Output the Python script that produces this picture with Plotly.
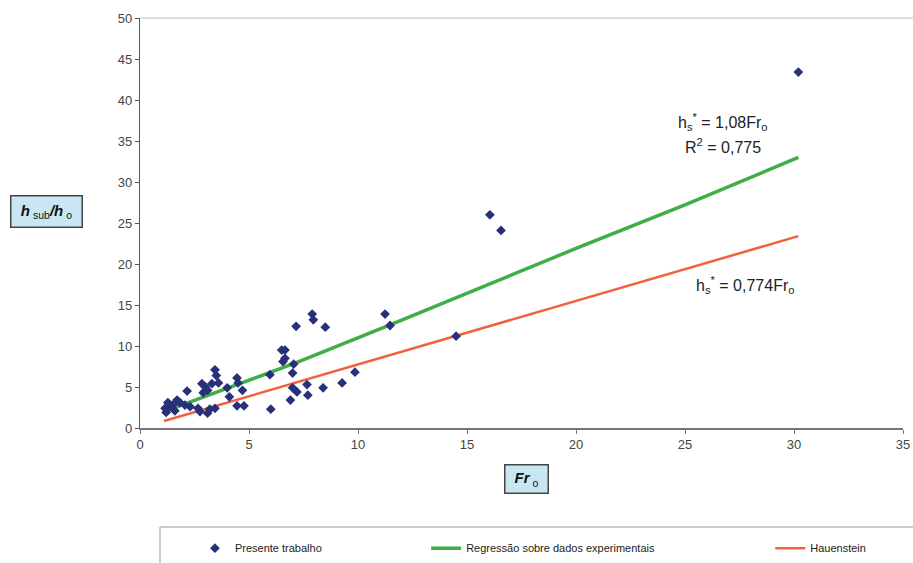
import plotly.graph_objects as go

# Experimental points (Fr_o, h_sub/h_o)
fr_data = [30.2, 16.05, 16.56, 11.24, 11.47, 14.5, 7.9, 7.95, 7.16, 8.5,
           9.86, 9.27, 8.4, 7.7, 7.66, 7.0, 7.2, 6.9, 7.0, 7.05,
           6.5, 6.65, 6.56, 6.65, 5.96, 6.0, 4.45, 4.77, 4.45, 4.5,
           4.7, 4.0, 4.1, 3.44, 3.5, 3.6, 3.3, 2.84, 3.0, 3.1,
           2.9, 2.16, 3.1, 3.44, 3.2, 2.66, 2.75, 1.28, 1.15, 1.5,
           1.83, 2.06, 1.6, 1.2, 1.38, 1.7, 2.3]
h_data = [43.4, 26.0, 24.1, 13.9, 12.5, 11.2, 13.9, 13.2, 12.4, 12.3,
          6.8, 5.5, 4.9, 4.0, 5.3, 4.9, 4.4, 3.4, 6.7, 7.8,
          9.5, 9.5, 8.1, 8.5, 6.5, 2.3, 2.7, 2.7, 6.1, 5.5,
          4.6, 4.9, 3.8, 7.1, 6.4, 5.5, 5.4, 5.4, 5.0, 4.6,
          4.3, 4.5, 1.8, 2.4, 2.3, 2.4, 2.0, 3.1, 2.4, 2.8,
          3.1, 2.8, 2.1, 1.9, 2.6, 3.4, 2.6]

# Regression curve
reg_x = [1.1, 5.0, 7.2, 11.5, 16.5, 20.0, 25.0, 30.2]
reg_y = [2.0, 5.8, 8.0, 12.6, 18.1, 21.9, 27.2, 33.0]

# Hauenstein line
hau_x = [1.1, 30.2]
hau_y = [0.85, 23.4]

x_ticks = [0, 5, 10, 15, 20, 25, 30, 35]
y_ticks = [0, 5, 10, 15, 20, 25, 30, 35, 40, 45, 50]

FONT = "Liberation Sans, Arial, sans-serif"

fig = go.Figure()
fig.add_trace(go.Scatter(
    x=reg_x, y=reg_y, mode="lines", name="Regressão sobre dados experimentais",
    line=dict(color="#3fae46", width=3.5), legend="legend2"))
fig.add_trace(go.Scatter(
    x=hau_x, y=hau_y, mode="lines", name="Hauenstein",
    line=dict(color="#f2603f", width=2.5), legend="legend3"))
fig.add_trace(go.Scatter(
    x=fr_data, y=h_data, mode="markers", name="Presente trabalho",
    marker=dict(symbol="diamond", size=7.5, color="#29307a"), legend="legend"))

leg_common = dict(orientation="h", yanchor="middle", y=-0.293, xanchor="left",
                  font=dict(family=FONT, size=11, color="#222"),
                  bgcolor="rgba(0,0,0,0)", borderwidth=0, itemwidth=30)

fig.update_layout(
    width=913, height=563,
    margin=dict(l=140, r=10, t=18, b=135, autoexpand=False),
    paper_bgcolor="white", plot_bgcolor="white",
    font=dict(family=FONT, size=12, color="#333"),
    showlegend=True,
    legend=dict(x=0.072, **leg_common),
    legend2=dict(x=0.375, **leg_common),
    legend3=dict(x=0.826, **leg_common),
    xaxis=dict(range=[0, 35], tickvals=x_ticks, showgrid=False, zeroline=False,
               showline=True, linecolor="#777", linewidth=1.5,
               ticks="outside", ticklen=4, tickcolor="#777",
               tickfont=dict(family=FONT, size=13, color="#444")),
    yaxis=dict(range=[0, 50], tickvals=y_ticks, showgrid=False, zeroline=False,
               showline=True, linecolor="#555", linewidth=1.2,
               ticks="outside", ticklen=4, tickcolor="#555",
               tickfont=dict(family=FONT, size=13, color="#444")),
    shapes=[
        dict(type="line", xref="paper", yref="paper", x0=0, x1=1.013, y0=1, y1=1,
             line=dict(color="#bbb", width=1)),
        dict(type="rect", xref="paper", yref="paper",
             x0=(160 - 140) / 763, x1=1.05, y0=-0.38, y1=(428 - 527) / 410,
             line=dict(color="#999", width=1)),
    ],
    annotations=[
        dict(xref="paper", yref="paper", x=-0.123, y=0.527,
             xanchor="center", yanchor="middle",
             text="<b><i>h</i></b><sub> sub</sub><b><i>/h</i></b><sub> o</sub>",
             showarrow=False, font=dict(family=FONT, size=15, color="#111"),
             bgcolor="#c8e7f3", bordercolor="#444", borderwidth=1.5,
             width=68, height=28),
        dict(xref="paper", yref="paper", x=0.507, y=-0.124,
             xanchor="center", yanchor="middle",
             text="<b><i>Fr</i></b><sub> o</sub>",
             showarrow=False, font=dict(family=FONT, size=15, color="#111"),
             bgcolor="#c8e7f3", bordercolor="#444", borderwidth=1.5,
             width=40, height=25),
        dict(x=26.75, y=37.3, xref="x", yref="y",
             text="h<sub>s</sub><sup>*</sup> = 1,08Fr<sub>o</sub>",
             showarrow=False, font=dict(family=FONT, size=16, color="#222")),
        dict(x=26.75, y=34.4, xref="x", yref="y",
             text="R<sup>2</sup> = 0,775",
             showarrow=False, font=dict(family=FONT, size=16, color="#222")),
        dict(x=27.75, y=17.5, xref="x", yref="y",
             text="h<sub>s</sub><sup>*</sup> = 0,774Fr<sub>o</sub>",
             showarrow=False, font=dict(family=FONT, size=16, color="#222")),
    ],
)

fig.write_html("out.html", config={"displayModeBar": False},
               post_script="document.body.style.margin='0';")
